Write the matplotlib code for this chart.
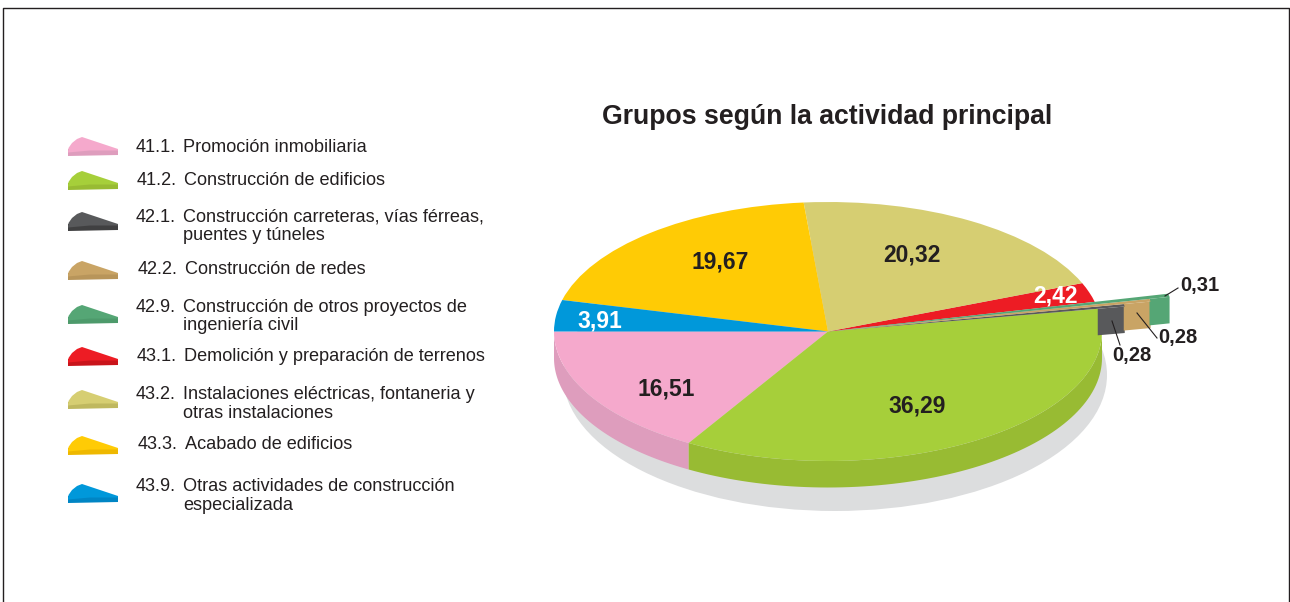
import numpy as np
import matplotlib
matplotlib.use('Agg')
import matplotlib.pyplot as plt
from matplotlib.patches import Wedge, Polygon, Ellipse
from matplotlib.transforms import Affine2D

plt.rcParams['font.family'] = ['Liberation Sans', 'DejaVu Sans']

# Pie data, going counterclockwise from the left edge
values = [16.51, 36.29, 0.28, 0.28, 0.31, 2.42, 20.32, 19.67, 3.91]
top_colors = ['#f5a9cc', '#a6cf3a', '#58595b', '#c9a465', '#55a675',
              '#ed1c24', '#d6ce72', '#ffcb05', '#0098da']
side_colors = ['#de9dbd', '#98bb33', '#404041', '#b8955a', '#4d9a6b',
               '#c9141b', '#bfb85f', '#eeb800', '#0085c4']
radii = [1, 1, 1.10, 1.20, 1.275, 1, 1, 1, 1]
label_x = [666, 917, 1132, 1178, 1200, 1056, 912, 720, 600]
label_y = [389, 406, 356, 338, 285, 296, 255, 262, 321]
label_colors = ['#231f20', '#231f20', '#231f20', '#231f20', '#231f20',
                'white', '#231f20', '#231f20', 'white']

# Legend data
legend_codes = ['41.1.', '41.2.', '42.1.', '42.2.', '42.9.', '43.1.', '43.2.', '43.3.', '43.9.']
legend_names = ['Promoción inmobiliaria',
                'Construcción de edificios',
                'Construcción carreteras, vías férreas,\npuentes y túneles',
                'Construcción de redes',
                'Construcción de otros proyectos de\ningeniería civil',
                'Demolición y preparación de terrenos',
                'Instalaciones eléctricas, fontaneria y\notras instalaciones',
                'Acabado de edificios',
                'Otras actividades de construcción\nespecializada']
icon_tops = [137, 171, 212, 261, 305, 347, 390, 436, 484]
text_y = [152, 185, 222, 274, 312, 361, 399, 449, 491]
text_x = [136, 137, 136, 138, 136, 137, 136, 138, 136]

cx, cy, rx, ry, depth = 828, 331.5, 274, 129.5, 26.5

fig = plt.figure(figsize=(12.9, 6.02), dpi=100)
ax = fig.add_axes([0, 0, 1, 1])
ax.set_xlim(0, 1290)
ax.set_ylim(602, 0)
ax.axis('off')

# Outer frame, open at the bottom
ax.plot([3, 3, 1288.5, 1288.5], [602, 7.5, 7.5, 602], color='#231f20', lw=1, clip_on=False)

ax.text(827, 117, 'Grupos según la actividad principal', fontsize=19.2, fontweight='bold',
        color='#231f20', ha='center', va='center')

# Shadow under the pie
ax.add_patch(Ellipse((835, 375), 544, 272, color='#dcddde', lw=0, zorder=1))

pie = Affine2D().scale(rx, -ry).translate(cx, cy) + ax.transData
total = sum(values)
edges = 180 + np.cumsum([0] + values) / total * 360

# Rim of the pie, only the front half shows
for i in range(len(values)):
    if edges[i] >= 360:
        continue
    a = np.radians(np.linspace(max(edges[i], 180), min(edges[i + 1], 360), 80))
    xs = cx + rx * np.cos(a)
    ys = cy - ry * np.sin(a)
    pts = np.r_[np.c_[xs, ys], np.c_[xs, ys + depth][::-1]]
    ax.add_patch(Polygon(pts, color=side_colors[i], lw=0, zorder=2))

# Top of the pie
for i in range(len(values)):
    if radii[i] == 1:
        ax.add_patch(Wedge((0, 0), 1, edges[i], edges[i + 1], facecolor=top_colors[i],
                           lw=0, transform=pie, zorder=3))

# The three thin slices stick out of the pie
inner = 1
for i in range(len(values)):
    if radii[i] > 1:
        a = np.radians(edges[i])
        r = np.array([inner, radii[i]])
        xs = cx + rx * r * np.cos(a)
        ys = cy - ry * r * np.sin(a)
        ax.add_patch(Polygon([[xs[0], ys[0]], [xs[1], ys[1]], [xs[1], ys[1] + depth], [xs[0], ys[0] + depth]],
                             color=top_colors[i], lw=0, zorder=4))
        ax.add_patch(Wedge((0, 0), radii[i], edges[i], edges[i + 1], facecolor=top_colors[i],
                           lw=0, transform=pie, zorder=5))
        inner = radii[i]

# Leader lines of the thin slices
ax.plot([1165, 1178], [296, 288], color='#231f20', lw=0.8, zorder=6)
ax.plot([1137, 1157], [313, 338], color='#231f20', lw=0.8, zorder=6)
ax.plot([1112, 1120], [321, 345], color='#231f20', lw=0.8, zorder=6)

for i, v in enumerate(values):
    size = 14.5 if radii[i] > 1 else 16.5
    ax.text(label_x[i], label_y[i], f'{v:.2f}'.replace('.', ','), fontsize=size, fontweight='bold',
            color=label_colors[i], ha='center', va='center', zorder=7)

# Legend with small wedge icons
for i in range(len(legend_codes)):
    t = icon_tops[i]
    ax.add_patch(Polygon([[68, t + 12], [118, t + 12], [118, t + 18], [68, t + 19]],
                         color=side_colors[i], lw=0))
    ax.add_patch(Polygon([[68, t + 15.5], [68.5, t + 11], [72, t + 6], [77, t + 2], [82, t],
                          [118, t + 12], [118, t + 13.5], [90, t + 13.5]],
                         color=top_colors[i], lw=0))
    lines = legend_names[i].split('\n')
    ax.text(text_x[i], text_y[i], legend_codes[i], fontsize=13.1, color='#231f20', ha='left', va='baseline')
    ax.text(text_x[i] + 47, text_y[i], lines[0], fontsize=13.1, color='#231f20', ha='left', va='baseline')
    if len(lines) > 1:
        ax.text(183, text_y[i] + 18.5, lines[1], fontsize=13.1, color='#231f20', ha='left', va='baseline')

fig.savefig('out.png', dpi=100)
